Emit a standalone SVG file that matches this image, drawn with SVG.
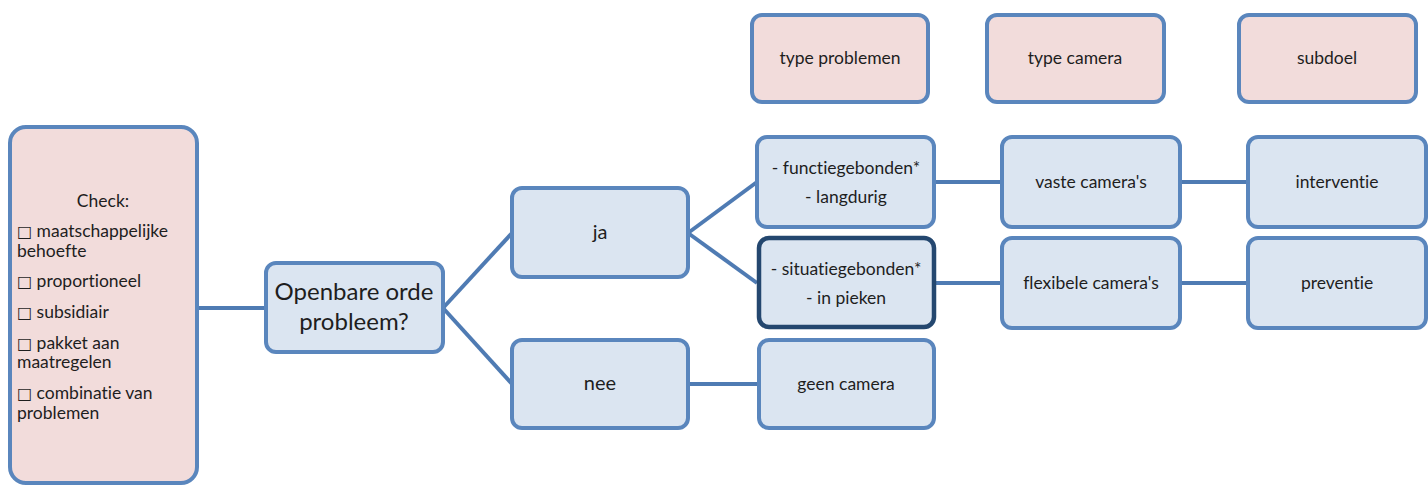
<svg xmlns="http://www.w3.org/2000/svg" width="1428" height="486" viewBox="0 0 1428 486">
<style>
.n rect{fill:#dbe5f1;stroke:#5a86bd;stroke-width:4}
.p rect{fill:#f2dcdb;stroke:#5a86bd;stroke-width:4}
.d rect{fill:#dbe5f1;stroke:#24476f;stroke-width:4.5}
text{font-family:Lato,"Liberation Sans",sans-serif;font-size:17.5px;fill:#1e1e1e;text-anchor:middle;font-variant-ligatures:none}
.l{text-anchor:start}
.b{font-family:"DejaVu Sans",sans-serif;font-size:16px}
.big{font-size:24px}
.mid{font-size:20px}
.c path{fill:none;stroke:#4f7bb3;stroke-width:4}
</style>
<rect width="1428" height="486" fill="#fff"/>
<g class="c" id="connectors">
<path d="M197 308H266"/>
<path d="M443 308L512 233"/>
<path d="M443 308L512 384"/>
<path d="M688 233L757 182"/>
<path d="M688 233L757 283"/>
<path d="M688 384H759"/>
<path d="M934 182H1002"/>
<path d="M934 283H1002"/>
<path d="M1180 182H1248"/>
<path d="M1180 283H1248"/>
</g>
<g id="check" class="p"><rect x="10" y="127" width="187" height="356" rx="16"/>
<text x="103" y="207">Check:</text>
<text class="l" x="17" y="237"><tspan class="b">□</tspan> maatschappelijke</text>
<text class="l" x="17" y="257">behoefte</text>
<text class="l" x="17" y="287"><tspan class="b">□</tspan> proportioneel</text>
<text class="l" x="17" y="318"><tspan class="b">□</tspan> subsidiair</text>
<text class="l" x="17" y="349"><tspan class="b">□</tspan> pakket aan</text>
<text class="l" x="17" y="368">maatregelen</text>
<text class="l" x="17" y="399"><tspan class="b">□</tspan> combinatie van</text>
<text class="l" x="17" y="419">problemen</text>
</g>
<g id="openbare" class="n"><rect x="266" y="263" width="177" height="89" rx="10"/>
<text class="big" x="354" y="300">Openbare orde</text>
<text class="big" x="354" y="330">probleem?</text></g>
<g id="ja" class="n"><rect x="512" y="188" width="176" height="89" rx="10"/><text class="mid" x="600" y="239">ja</text></g>
<g id="nee" class="n"><rect x="512" y="340" width="176" height="88" rx="10"/><text class="mid" x="600" y="390">nee</text></g>
<g id="functie" class="n"><rect x="757" y="137" width="177" height="90" rx="10"/>
<text x="846" y="174">- functiegebonden*</text><text x="846" y="203">- langdurig</text></g>
<g id="situatie" class="d"><rect x="759" y="238" width="175" height="89" rx="10"/>
<text x="846" y="275">- situatiegebonden*</text><text x="846" y="304">- in pieken</text></g>
<g id="geen" class="n"><rect x="759" y="340" width="175" height="88" rx="10"/><text x="846" y="390">geen camera</text></g>
<g id="vaste" class="n"><rect x="1002" y="137" width="178" height="90" rx="10"/><text x="1091" y="188">vaste camera's</text></g>
<g id="flexibele" class="n"><rect x="1002" y="238" width="178" height="90" rx="10"/><text x="1091" y="289">flexibele camera's</text></g>
<g id="interventie" class="n"><rect x="1248" y="137" width="178" height="90" rx="10"/><text x="1337" y="188">interventie</text></g>
<g id="preventie" class="n"><rect x="1248" y="238" width="178" height="90" rx="10"/><text x="1337" y="289">preventie</text></g>
<g id="typeproblemen" class="p"><rect x="752" y="15" width="176" height="87" rx="10"/><text x="840" y="64">type problemen</text></g>
<g id="typecamera" class="p"><rect x="987" y="15" width="177" height="87" rx="10"/><text x="1075" y="64">type camera</text></g>
<g id="subdoel" class="p"><rect x="1239" y="15" width="177" height="87" rx="10"/><text x="1327" y="64">subdoel</text></g>
</svg>
